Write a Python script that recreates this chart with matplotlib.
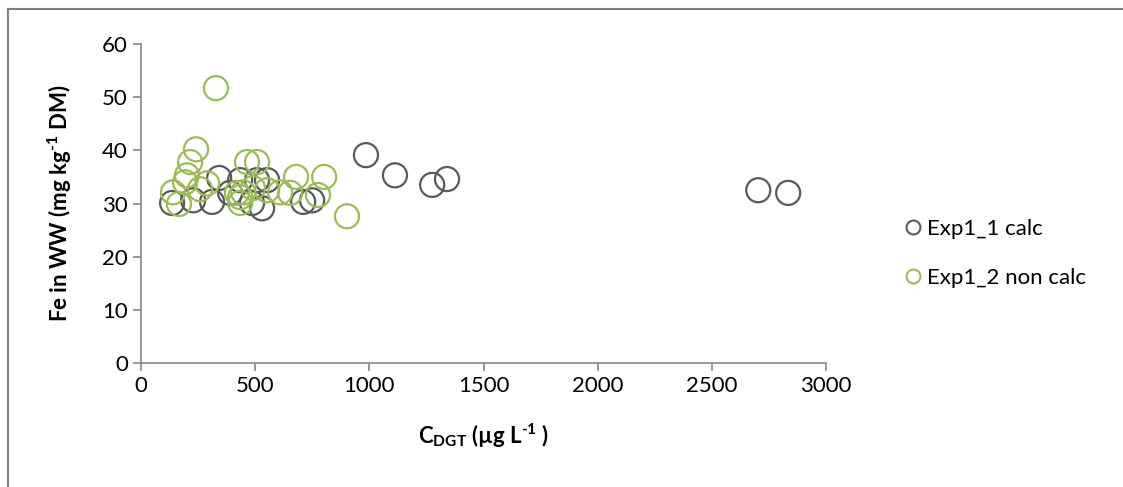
import matplotlib.pyplot as plt
from matplotlib.lines import Line2D

plt.rcParams['font.family'] = ['Lato', 'DejaVu Sans']
plt.rcParams['mathtext.fontset'] = 'custom'
plt.rcParams['mathtext.rm'] = 'Lato:bold'
plt.rcParams['mathtext.it'] = 'Lato:bold'
plt.rcParams['mathtext.bf'] = 'Lato:bold'

# Exp1_1 calc
calc_x = [136, 228, 311, 342, 390, 434, 486, 508, 530, 552, 710, 749,
          985, 1112, 1275, 1340, 2703, 2834]
calc_y = [30.1, 30.6, 30.3, 34.8, 32.0, 34.4, 30.1, 34.4, 29.1, 34.4, 30.3, 30.6,
          39.1, 35.3, 33.5, 34.6, 32.5, 32.0]

# Exp1_2 non calc
noncalc_x = [140, 166, 193, 201, 215, 241, 258, 289, 328, 420, 434, 434, 447,
             464, 490, 508, 552, 609, 653, 679, 775, 802, 902]
noncalc_y = [32.1, 29.9, 34.0, 35.3, 37.8, 40.2, 32.7, 33.8, 51.7, 32.0, 31.2, 30.1, 32.1,
             37.8, 32.9, 37.8, 32.5, 32.1, 32.0, 35.0, 31.6, 35.0, 27.6]

x_ticks = [0, 500, 1000, 1500, 2000, 2500, 3000]
y_ticks = [0, 10, 20, 30, 40, 50, 60]

fig = plt.figure(figsize=(11.23, 4.87), dpi=100)
ax = fig.add_axes([0.1256, 0.2546, 0.61, 0.655])

ax.scatter(calc_x, calc_y, s=300, facecolors='none', edgecolors='#595959',
           linewidths=1.6, zorder=2)
ax.scatter(noncalc_x, noncalc_y, s=300, facecolors='none', edgecolors='#9BBB59',
           linewidths=1.6, zorder=3)

ax.set_xlim(0, 3000)
ax.set_ylim(0, 60)
ax.set_xticks(x_ticks)
ax.set_yticks(y_ticks)
ax.tick_params(labelsize=16, color='#868686', length=6, width=1.2)
for side in ['top', 'right']:
    ax.spines[side].set_visible(False)
for side in ['left', 'bottom']:
    ax.spines[side].set_color('#868686')
    ax.spines[side].set_linewidth(1.2)

ax.set_ylabel('Fe in WW (mg kg$^{\u20101}$ DM)', fontsize=16, fontweight='bold', labelpad=20)
ax.set_xlabel('C$_{DGT}$ (µg L$^{\u20101}$ )', fontsize=16, fontweight='bold', labelpad=18)

handles = [
    Line2D([], [], marker='o', linestyle='none', markersize=10, markerfacecolor='none',
           markeredgecolor='#595959', markeredgewidth=1.5),
    Line2D([], [], marker='o', linestyle='none', markersize=10, markerfacecolor='none',
           markeredgecolor='#9BBB59', markeredgewidth=1.5),
]
fig.legend(handles, ['Exp1_1 calc', 'Exp1_2 non calc'], loc='center left',
           bbox_to_anchor=(0.782, 0.48), frameon=False, fontsize=16,
           handletextpad=0.0, labelspacing=1.3, handlelength=1.3)

# outer frame (left and top edges)
fig.add_artist(Line2D([0.0075, 0.0075], [0, 0.982], transform=fig.transFigure,
                      color='#808080', linewidth=1.5))
fig.add_artist(Line2D([0.0075, 1.0], [0.982, 0.982], transform=fig.transFigure,
                      color='#808080', linewidth=1.5))

fig.savefig('out.png', dpi=100)
